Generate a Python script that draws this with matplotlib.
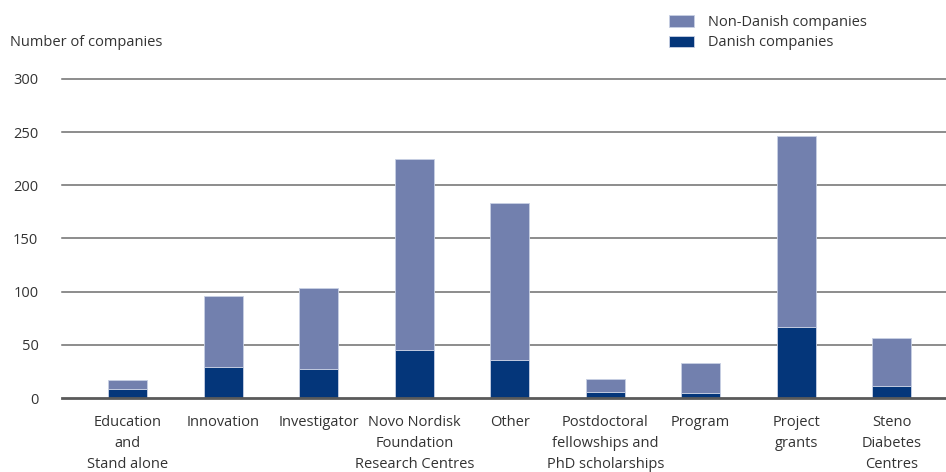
import numpy as np
import matplotlib.pyplot as plt

plt.rcParams['font.family'] = ['Open Sans', 'DejaVu Sans']

categories = ['Education\nand\nStand alone', 'Innovation', 'Investigator',
              'Novo Nordisk\nFoundation\nResearch Centres', 'Other',
              'Postdoctoral\nfellowships and\nPhD scholarships', 'Program',
              'Project\ngrants', 'Steno\nDiabetes\nCentres']
danish = [8, 29, 27, 45, 36, 6, 5, 67, 11]
total = [17, 96, 103, 225, 183, 18, 33, 246, 56]
non_danish = [t - d for t, d in zip(total, danish)]
yticks = [0, 50, 100, 150, 200, 250, 300]

c_dk = '#04367a'
c_non = '#7280ae'
txt = '#333333'

fig = plt.figure(figsize=(9.46, 4.72), dpi=100)
ax = fig.add_axes([62 / 946, 1 - 398 / 472, 1 - 62 / 946, (398 - 79) / 472])

x = np.arange(len(categories))
ax.bar(x, danish, width=0.41, color=c_dk, edgecolor='#c8d0e4', linewidth=0.6,
       zorder=3, label='Danish companies')
ax.bar(x, non_danish, bottom=danish, width=0.41, color=c_non, edgecolor='#c8d0e4',
       linewidth=0.6, zorder=3, label='Non-Danish companies')

ax.set_xlim(-0.69, 8.57)
ax.set_ylim(0, 300)
for y in yticks:
    if y == 0:
        ax.axhline(y, color='#5a5a5a', linewidth=2, zorder=4, clip_on=False)
    else:
        ax.axhline(y, color='#6e6e6e', linewidth=1.1, zorder=1, clip_on=False)

for s in ax.spines.values():
    s.set_visible(False)
ax.set_yticks(yticks)
ax.set_yticklabels([str(v) for v in yticks], fontsize=10.5, color=txt)
ax.tick_params(axis='y', length=0, pad=17)
ax.set_xticks(x)
ax.set_xticklabels(categories, fontsize=10.5, color=txt, linespacing=1.55)
ax.tick_params(axis='x', length=0, pad=12)

fig.text(10 / 946, 1 - 42 / 472, 'Number of companies', fontsize=10.5, color=txt,
         va='center', ha='left')

h, l = ax.get_legend_handles_labels()
fig.legend(h[::-1], l[::-1], loc='upper left', bbox_to_anchor=(656 / 946, 1 - 2 / 472),
           frameon=False, fontsize=10.5, handlelength=1.7, handleheight=0.8,
           labelspacing=0.35, handletextpad=1.0, labelcolor=txt)

fig.savefig('out.png', dpi=100)
